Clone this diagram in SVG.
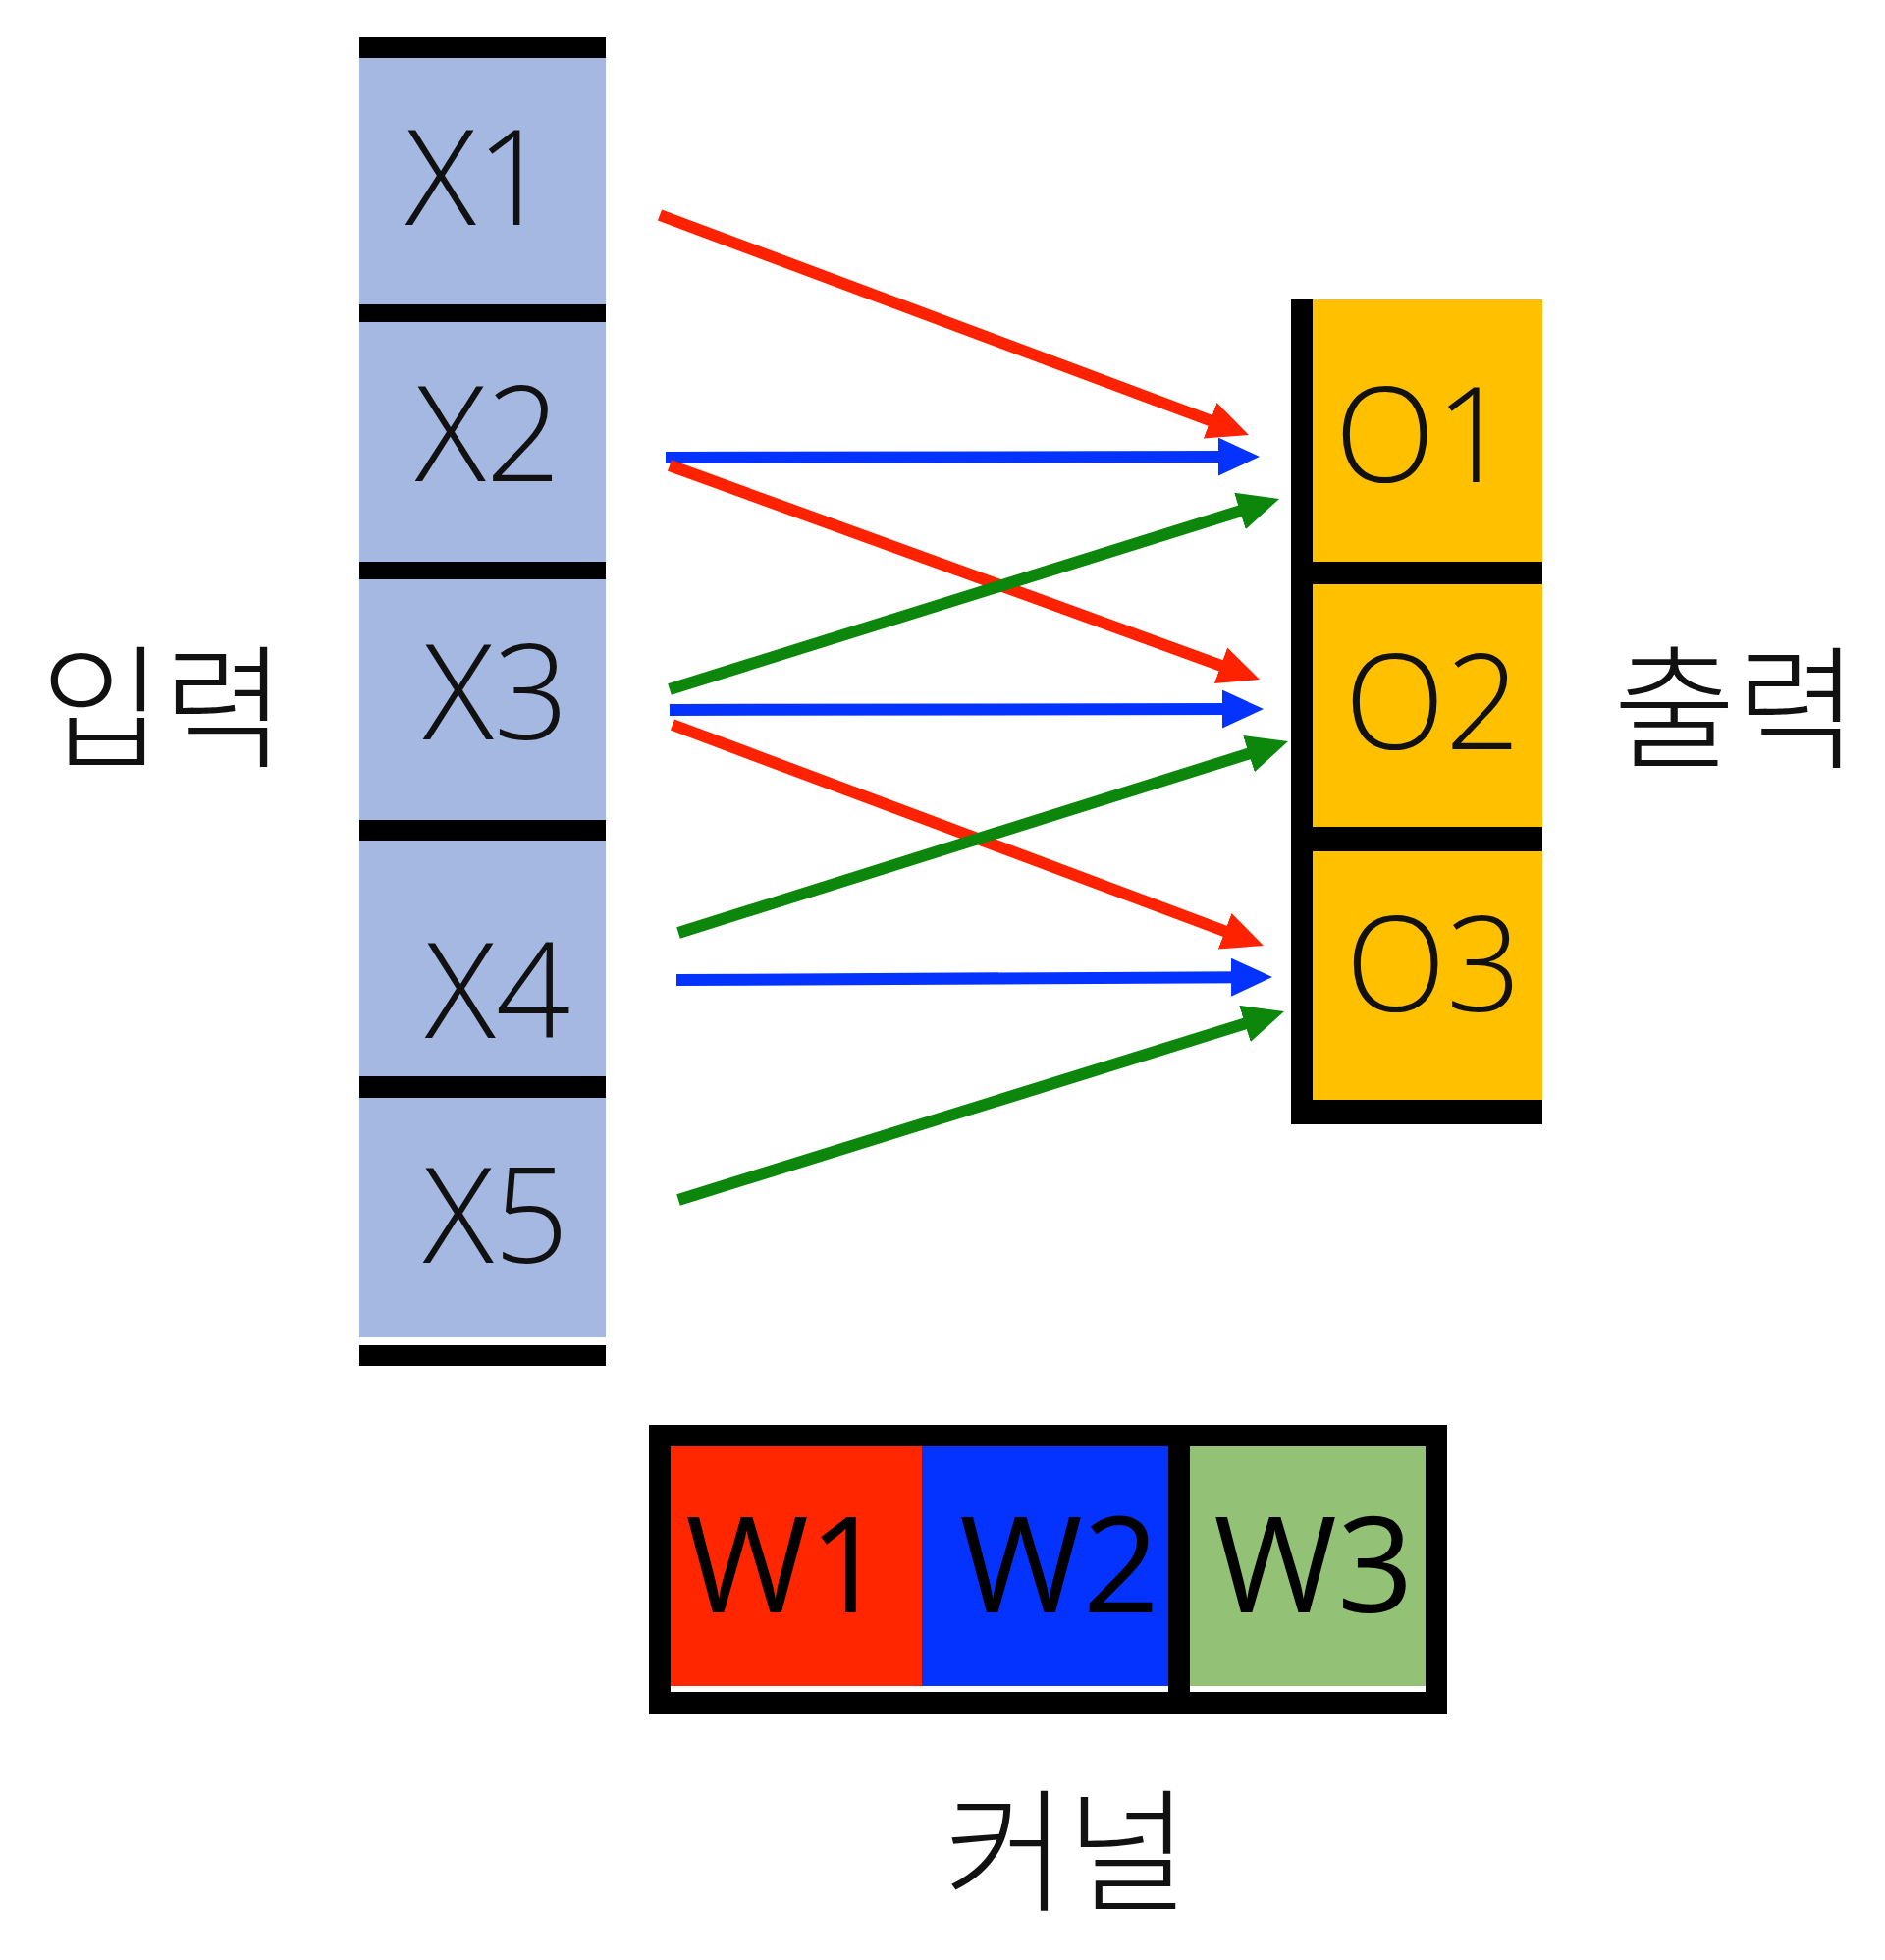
<svg xmlns="http://www.w3.org/2000/svg" width="1920" height="1996" viewBox="0 0 1920 1996">
<style>
.lbl{font-family:"Open Sans","Noto Sans CJK KR",sans-serif;font-size:134px;font-weight:300;fill:#111;text-anchor:middle}
.wl{font-family:"Open Sans","Noto Sans CJK KR",sans-serif;font-size:136px;font-weight:400;fill:#000;text-anchor:middle}
.ko{font-family:"Noto Sans CJK KR",sans-serif;font-size:136px;font-weight:300;fill:#111;text-anchor:middle}
.in{fill:#A4B8E1}
.out{fill:#FFC000}
.bar{fill:#000}
.r{stroke:#FF2200;stroke-width:12;fill:none}
.b{stroke:#0433FF;stroke-width:12;fill:none}
.g{stroke:#0C870C;stroke-width:12;fill:none}
</style>
<defs>
<marker id="ar" markerUnits="userSpaceOnUse" markerWidth="44" markerHeight="40" refX="12" refY="19.5" orient="auto"><path d="M0,0 L42,19.5 L0,39 Z" fill="#FF2200"/></marker>
<marker id="ab" markerUnits="userSpaceOnUse" markerWidth="44" markerHeight="40" refX="12" refY="19.5" orient="auto"><path d="M0,0 L42,19.5 L0,39 Z" fill="#0433FF"/></marker>
<marker id="ag" markerUnits="userSpaceOnUse" markerWidth="44" markerHeight="40" refX="12" refY="19.5" orient="auto"><path d="M0,0 L42,19.5 L0,39 Z" fill="#0C870C"/></marker>
</defs>
<rect width="1920" height="1996" fill="#fff"/>

<g id="input-label"><text class="ko" x="166" y="771">입력</text></g>

<g id="x1"><rect class="in" x="366" y="58" width="251" height="253"/><text class="lbl" x="487" y="229">X1</text></g>
<g id="x2"><rect class="in" x="366" y="327" width="251" height="246"/><text class="lbl" x="497" y="490">X2</text></g>
<g id="x3"><rect class="in" x="366" y="589" width="251" height="247"/><text class="lbl" x="505" y="753">X3</text></g>
<g id="x4"><rect class="in" x="366" y="855" width="251" height="242"/><text class="lbl" x="507" y="1057">X4</text></g>
<g id="x5"><rect class="in" x="366" y="1117" width="251" height="245"/><text class="lbl" x="505" y="1286">X5</text></g>
<g id="input-bars">
<rect class="bar" x="366" y="38" width="251" height="21"/>
<rect class="bar" x="366" y="310" width="251" height="18"/>
<rect class="bar" x="366" y="572" width="251" height="18"/>
<rect class="bar" x="366" y="835" width="251" height="21"/>
<rect class="bar" x="366" y="1096" width="251" height="22"/>
<rect class="bar" x="366" y="1370" width="251" height="21"/>
</g>

<g id="o1"><rect class="out" x="1337" y="305" width="234" height="268"/><text class="lbl" x="1449" y="491">O1</text></g>
<g id="o2"><rect class="out" x="1337" y="594" width="234" height="249"/><text class="lbl" x="1459" y="763">O2</text></g>
<g id="o3"><rect class="out" x="1337" y="866" width="234" height="255"/><text class="lbl" x="1460" y="1030">O3</text></g>
<g id="output-bars">
<rect class="bar" x="1315" y="305" width="22" height="840"/>
<rect class="bar" x="1315" y="572" width="256" height="23"/>
<rect class="bar" x="1315" y="842" width="256" height="25"/>
<rect class="bar" x="1315" y="1120" width="256" height="25"/>
</g>
<g id="output-label"><text class="ko" x="1768" y="772">출력</text></g>

<g id="connectors">
<line class="r" x1="672" y1="219" x2="1243.9" y2="432.5" marker-end="url(#ar)"/>
<line class="b" x1="678" y1="466" x2="1253" y2="465.05" marker-end="url(#ab)"/>
<line class="r" x1="682" y1="474" x2="1254.8" y2="681.8" marker-end="url(#ar)"/>
<line class="g" x1="682" y1="702" x2="1274.4" y2="516.9" marker-end="url(#ag)"/>
<line class="b" x1="682" y1="723" x2="1257" y2="722.05" marker-end="url(#ab)"/>
<line class="r" x1="685" y1="738" x2="1258.9" y2="952.5" marker-end="url(#ar)"/>
<line class="g" x1="691" y1="950" x2="1283.4" y2="764" marker-end="url(#ag)"/>
<line class="b" x1="689" y1="998" x2="1266" y2="995.15" marker-end="url(#ab)"/>
<line class="g" x1="691" y1="1222" x2="1279.4" y2="1038.9" marker-end="url(#ag)"/>
</g>

<g id="kernel">
<rect x="661" y="1451" width="813" height="294" fill="#000"/>
<rect x="683" y="1473" width="256" height="244" fill="#FF2600"/>
<rect x="939" y="1473" width="251" height="244" fill="#0433FF"/>
<rect x="1212" y="1473" width="240" height="244" fill="#93C276"/>
<rect x="683" y="1717" width="507" height="6" fill="#fff"/>
<rect x="1212" y="1717" width="240" height="6" fill="#fff"/>
<text class="wl" x="800" y="1642">W1</text>
<text class="wl" x="1079" y="1642">W2</text>
<text class="wl" x="1338" y="1642">W3</text>
</g>
<g id="kernel-label"><text class="ko" x="1086" y="1936">커널</text></g>
</svg>
